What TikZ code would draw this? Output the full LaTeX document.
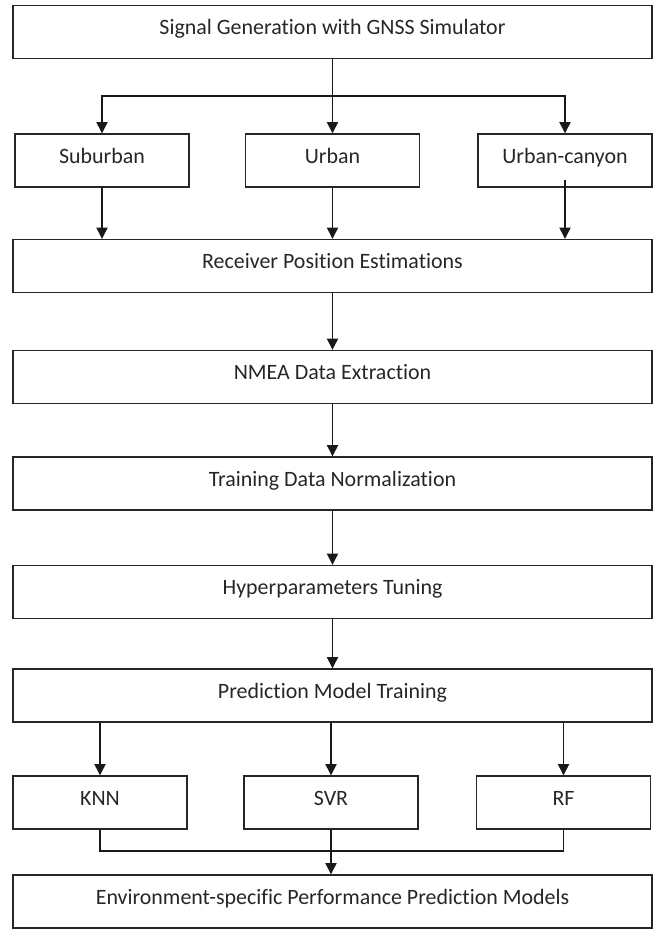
\documentclass[tikz,border=0pt]{standalone}
\usepackage{fontspec}
\setmainfont{Carlito}[Ligatures={NoCommon,NoContextual}]
\usepackage{tikz}
\usetikzlibrary{arrows.meta,positioning}
\tikzstyle{wide}=[rectangle, draw=black!85, line width=1pt, minimum width=15.975cm, minimum height=1.325cm, text height=0.4cm, text depth=0.27cm, text=black!85, font=\fontsize{15.6}{18}\selectfont]
\tikzstyle{small}=[rectangle, draw=black!85, line width=1pt, minimum width=4.35cm, minimum height=1.325cm, text height=0.4cm, text depth=0.27cm, text=black!85, font=\fontsize{15.6}{18}\selectfont]
\tikzstyle{flow}=[-{Triangle[length=8pt,width=8pt]}, line width=0.9pt, draw=black!90]
\tikzstyle{link}=[line width=0.9pt, draw=black!90]

\begin{document}
\begin{tikzpicture}
\useasboundingbox (0,0) rectangle (16.625,-23.25);
%Top
\node[wide] (sig) at (8.3125,-0.8){Signal Generation with GNSS Simulator};
%Environments
\node[small] (sub) at (2.55,-4.0125){Suburban};
\node[small] (urb) at (8.3125,-4.0125){Urban};
\node[small] (can) at (14.125,-4.0125){Urban-canyon};
%Processing chain
\node[wide] (rec) at (8.3125,-6.65){Receiver Position Estimations};
\node[wide] (nmea) at (8.3125,-9.425){NMEA Data Extraction};
\node[wide] (norm) at (8.3125,-12.0875){Training Data Normalization};
\node[wide] (hyp) at (8.3125,-14.8){Hyperparameters Tuning};
\node[wide] (pmt) at (8.3125,-17.3875){Prediction Model Training};
%Models
\node[small] (knn) at (2.5,-20.0625){KNN};
\node[small] (svr) at (8.275,-20.0625){SVR};
\node[small] (rf) at (14.0875,-20.0625){RF};
\node[wide] (env) at (8.3125,-22.5375){Environment-specific Performance Prediction Models};
%split and merge points
\coordinate (split) at (8.3125,-2.4);
\coordinate (merge) at (8.275,-21.275);

%Arrows
\draw[flow] (sig.south) -- (urb.north);
\draw[flow] (split) -| (sub.north);
\draw[flow] (split) -| (can.north);
\draw[flow] (sub.south) -- (sub.south |- rec.north);
\draw[flow] (urb.south) -- (urb.south |- rec.north);
\draw[flow] ([yshift=0.2cm]can.south) -- (can.south |- rec.north);
\draw[flow] (rec) -- (nmea);
\draw[flow] (nmea) -- (norm);
\draw[flow] (norm) -- (hyp);
\draw[flow] (hyp) -- (pmt);
\draw[flow] (knn.north |- pmt.south) -- (knn.north);
\draw[flow] (svr.north |- pmt.south) -- (svr.north);
\draw[flow] (rf.north |- pmt.south) -- (rf.north);
\draw[link] (knn.south) |- (merge) -| (rf.south);
\draw[flow] (svr.south) -- (svr.south |- env.north);
\end{tikzpicture}
\end{document}
